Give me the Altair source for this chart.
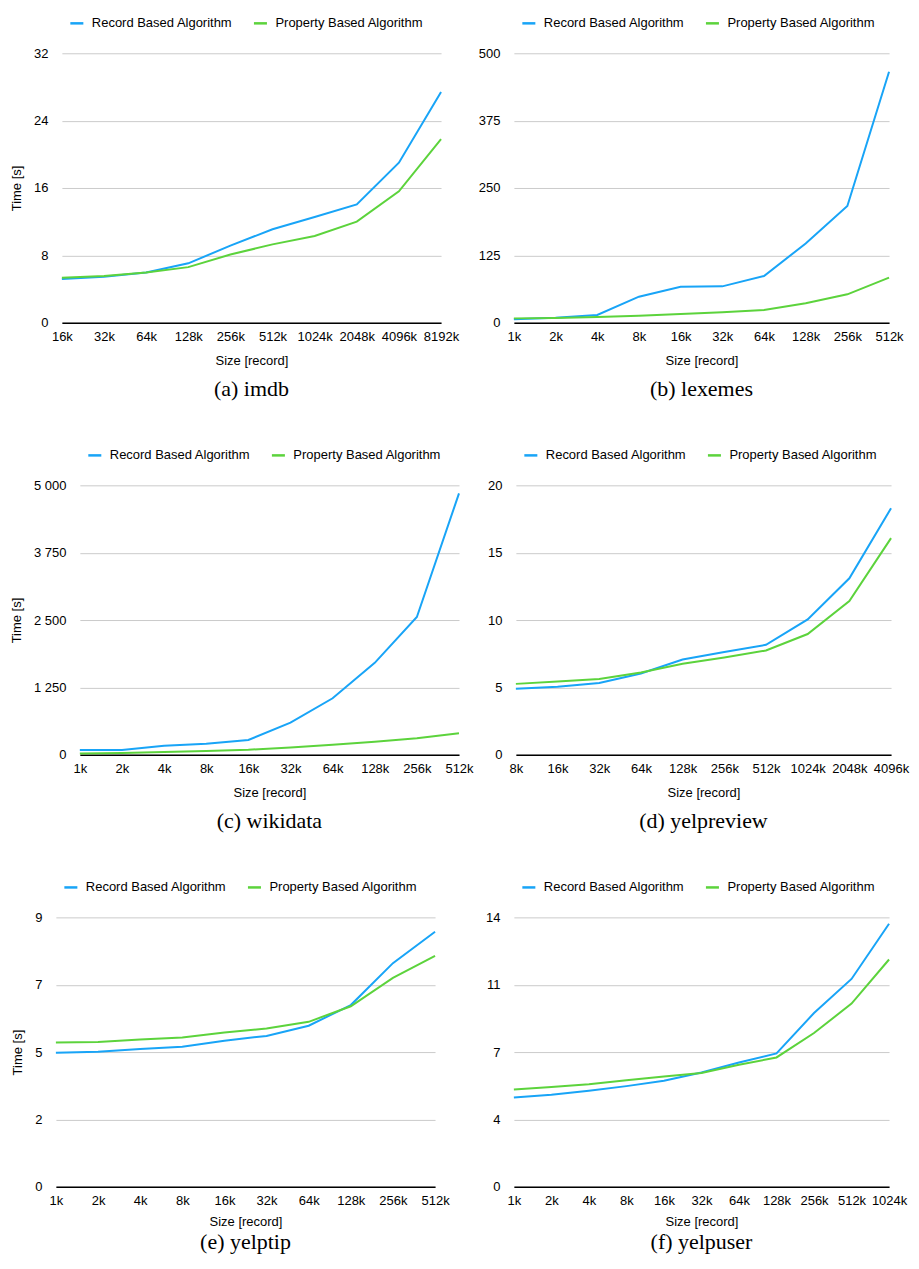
import altair as alt
import pandas as pd

SERIES = ["Record Based Algorithm", "Property Based Algorithm"]
COLORS = ["#18A4F7", "#5CD33C"]

# (a) imdb
imdb_sizes = ["16k", "32k", "64k", "128k", "256k", "512k", "1024k", "2048k", "4096k", "8192k"]
imdb_record = [5.2, 5.45, 5.95, 7.05, 9.15, 11.1, 12.55, 14.05, 19.0, 27.4]
imdb_property = [5.35, 5.55, 5.95, 6.6, 8.1, 9.3, 10.3, 12.0, 15.6, 21.8]

# (b) lexemes
lex_sizes = ["1k", "2k", "4k", "8k", "16k", "32k", "64k", "128k", "256k", "512k"]
lex_record = [6.2, 9.3, 14.2, 48.3, 66.8, 67.4, 86.6, 147.0, 216.5, 465.8]
lex_property = [8.0, 8.7, 10.5, 13.0, 16.0, 19.2, 23.5, 35.9, 52.6, 83.5]

# (c) wikidata
wiki_sizes = ["1k", "2k", "4k", "8k", "16k", "32k", "64k", "128k", "256k", "512k"]
wiki_record = [87, 87, 167, 205, 273, 595, 1048, 1705, 2556, 4851]
wiki_property = [25, 31, 50, 68, 93, 136, 186, 242, 304, 397]

# (d) yelpreview
yrev_sizes = ["8k", "16k", "32k", "64k", "128k", "256k", "512k", "1024k", "2048k", "4096k"]
yrev_record = [4.89, 5.04, 5.33, 6.03, 7.07, 7.62, 8.16, 10.05, 13.1, 18.3]
yrev_property = [5.26, 5.43, 5.63, 6.1, 6.75, 7.22, 7.74, 8.96, 11.41, 16.08]

# (e) yelptip
ytip_sizes = ["1k", "2k", "4k", "8k", "16k", "32k", "64k", "128k", "256k", "512k"]
ytip_record = [4.48, 4.51, 4.6, 4.68, 4.88, 5.04, 5.38, 6.07, 7.47, 8.52]
ytip_property = [4.82, 4.84, 4.92, 4.99, 5.15, 5.29, 5.51, 6.03, 6.98, 7.71]

# (f) yelpuser
yusr_sizes = ["1k", "2k", "4k", "8k", "16k", "32k", "64k", "128k", "256k", "512k", "1024k"]
yusr_record = [4.64, 4.78, 4.99, 5.23, 5.51, 5.94, 6.46, 6.93, 9.03, 10.8, 13.67]
yusr_property = [5.05, 5.19, 5.33, 5.54, 5.73, 5.91, 6.34, 6.72, 7.99, 9.52, 11.81]

SANS = "Liberation Sans"
SERIF = "Liberation Serif"
FS = 13


def panel(sizes, rec, prop, ymax, caption, show_ytitle, extent, tpad=9,
          cap_offset=11, xtpad=11, width=380):
    rows = []
    for s, r, p in zip(sizes, rec, prop):
        rows.append({"size": s, "series": SERIES[0], "time": r, "ord": 1})
        rows.append({"size": s, "series": SERIES[1], "time": p, "ord": 0})
    df = pd.DataFrame(rows)
    ticks = [ymax * i / 4 for i in range(5)]
    yaxis = alt.Axis(
        values=ticks,
        labelExpr="replace(format(round(datum.value), ','), ',', ' ')",
        domain=False,
        ticks=False,
        labelPadding=14,
        labelFontSize=FS,
        gridColor="#cbcbcb",
        gridWidth=1,
        titleFontWeight="normal",
        titleFontSize=FS,
        titlePadding=tpad,
        minExtent=extent,
        maxExtent=extent,
    )
    ytitle = "Time [s]" if show_ytitle else None
    y = alt.Y("time:Q", scale=alt.Scale(domain=[0, ymax], nice=False, zero=True),
              axis=yaxis, title=ytitle)
    x = alt.X(
        "size:N",
        sort=sizes,
        scale=alt.Scale(type="point", padding=0),
        title="Size [record]",
        axis=alt.Axis(
            labelAngle=0,
            labelOverlap=False,
            ticks=False,
            domainColor="#000000",
            domainWidth=1.6,
            labelPadding=8,
            labelFontSize=FS,
            titleFontWeight="normal",
            titleFontSize=FS,
            titlePadding=xtpad,
            grid=False,
        ),
    )
    color = alt.Color(
        "series:N",
        scale=alt.Scale(domain=SERIES, range=COLORS),
        legend=alt.Legend(
            title=None,
            orient="none",
            direction="horizontal",
            legendX=7,
            legendY=-38,
            symbolType="stroke",
            symbolStrokeWidth=2.5,
            symbolSize=170,
            labelFontSize=FS,
            labelOffset=7,
            columnPadding=16,
            padding=0,
        ),
    )
    return (
        alt.Chart(df)
        .mark_line(strokeWidth=2)
        .encode(x=x, y=y, color=color, order=alt.Order("ord:Q"))
        .properties(
            width=width,
            height=270,
            title=alt.TitleParams(
                caption, orient="bottom", font=SERIF, fontSize=22,
                fontWeight="normal", offset=cap_offset, anchor="middle",
            ),
        )
    )


def indep(c):
    return c.resolve_scale(color="independent", x="independent", y="independent").resolve_legend(
        color="independent"
    )


def spacer(w):
    return (
        alt.Chart(pd.DataFrame({"v": [0]}))
        .mark_point(opacity=0)
        .encode(x=alt.value(0), y=alt.value(0))
        .properties(width=w, height=1)
    )


RW = 376  # right column plot width

pa = panel(imdb_sizes, imdb_record, imdb_property, 32, "(a) imdb", True, 29, 9)
pb = panel(lex_sizes, lex_record, lex_property, 500, "(b) lexemes", False, 36, width=RW)
pc = panel(wiki_sizes, wiki_record, wiki_property, 5000, "(c) wikidata", True, 48, 8)
pd_ = panel(yrev_sizes, yrev_record, yrev_property, 20, "(d) yelpreview", False, 29, width=RW)
pe = panel(ytip_sizes, ytip_record, ytip_property, 9, "(e) yelptip", True, 21, 10,
           cap_offset=3, xtpad=8)
pf = panel(yusr_sizes, yusr_record, yusr_property, 14, "(f) yelpuser", False, 28,
           cap_offset=3, xtpad=8, width=RW)


def row(w, left, right, gap):
    inner = indep(alt.hconcat(left, right, spacing=gap, bounds="flush"))
    return indep(alt.hconcat(spacer(w), inner, spacing=0))


row1 = row(3, pa, pb, 73)
row2 = row(1, pc, pd_, 57)
row3 = row(4, pe, pf, 79)

chart = (
    indep(alt.vconcat(row1, row2, row3, spacing=48))
    .properties(
        autosize=alt.AutoSizeParams(type="none"),
        padding={"left": 0, "top": 44, "right": 905, "bottom": 1204},
    )
    .configure(font=SANS)
    .configure_view(stroke=None)
    .configure_axis(labelColor="#000000", titleColor="#000000")
    .configure_legend(labelColor="#000000")
    .configure_title(color="#000000")
)

chart.save("out.html", embed_options={"renderer": "svg", "actions": False})
